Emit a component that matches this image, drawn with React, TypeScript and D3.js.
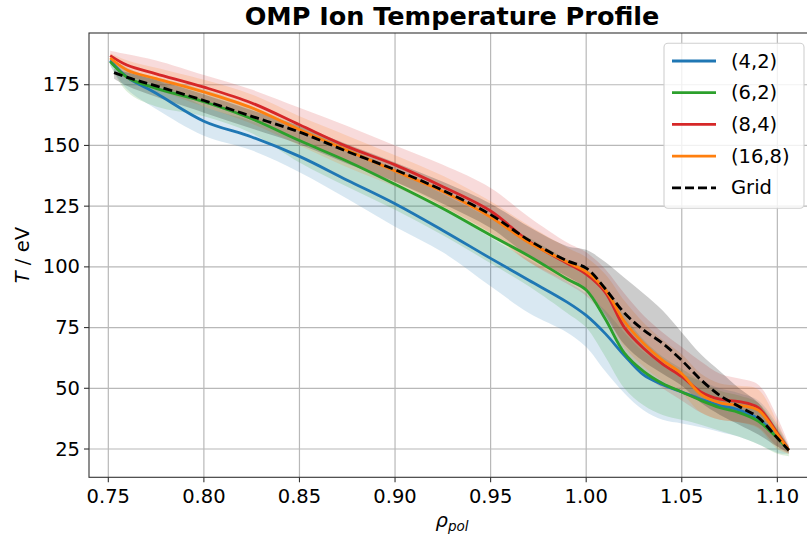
import React from "react";
import * as d3 from "d3";

const rho = [0.751, 0.76, 0.775, 0.80, 0.825, 0.85, 0.875, 0.90, 0.925, 0.95, 0.97, 0.99, 1.00, 1.01, 1.02, 1.03, 1.04, 1.05, 1.06, 1.07, 1.08, 1.09, 1.10, 1.106];
const rhoGrid = [0.753, 0.76, 0.775, 0.80, 0.825, 0.85, 0.875, 0.90, 0.925, 0.95, 0.97, 0.99, 1.00, 1.01, 1.02, 1.03, 1.04, 1.05, 1.06, 1.07, 1.08, 1.09, 1.10, 1.106];

const blueMean = [185, 178, 171.5, 160, 153.5, 145.5, 135.7, 126, 115, 103.5, 94.5, 85.5, 80, 72.5, 63.5, 55.5, 51.5, 48.5, 45.5, 43, 41, 37.5, 30, 24.5];
const blueLo = [183, 173, 165, 154, 148, 139, 128, 116.5, 106, 92, 81, 73, 67, 57, 48, 41, 37, 35.5, 34, 32, 30, 27, 23.5, 23];
const blueHi = [186, 182, 177, 166, 160, 152, 143, 134, 124, 112, 103, 94, 89, 82, 73, 65, 60, 56, 53, 50, 48, 45, 35, 26];

const greenMean = [184.5, 178, 173.5, 168, 161, 152, 143.5, 134, 124, 113, 104.5, 95, 90.5, 78.5, 64.5, 57, 52, 48.5, 45, 42, 40, 36.5, 29.5, 24.5];
const greenLo = [183, 172, 166, 162, 155, 143, 133, 123.5, 113, 101.5, 92, 81, 75, 63, 50, 43, 39, 37, 35, 32.5, 30, 27, 23, 22];
const greenHi = [186, 181, 178, 173, 166, 158, 149, 140, 130, 120, 112, 103, 99, 92, 80, 70, 63, 58, 53, 49, 47, 44, 34, 26];

const redMean = [187, 183, 179.5, 174, 167.5, 158.5, 149.5, 142, 133, 123, 110.5, 101.5, 97, 89.5, 75, 66.5, 60, 54.8, 48.5, 45.5, 44.5, 42, 31.5, 24.5];
const redLo = [184, 179, 175, 168, 161, 152, 143, 135, 125, 114, 102, 93, 88, 79, 64, 56, 50, 45, 40, 37, 36, 34, 26, 23];
const redHi = [189, 187.5, 185, 179, 173, 165.5, 158, 150, 142, 132.5, 120.5, 110, 106, 99, 89, 80, 73, 67, 61, 56, 54, 51.5, 38, 27];

const orangeMean = [186, 181, 177.5, 172, 165.5, 156.5, 148, 139.5, 131, 120.5, 110, 102, 98, 90.5, 77.5, 68.5, 61.5, 56, 47.5, 44, 43, 41, 31, 24.5];
const orangeLo = [184, 177, 173, 166, 159, 150, 141, 133, 123.5, 113, 102, 94, 90, 81, 67, 59, 53, 48, 40, 37, 36, 33.5, 25, 23];
const orangeHi = [188, 185, 182, 177, 171, 162, 154, 146, 137.5, 127, 117, 108, 104, 97, 86, 77, 70, 64, 56, 52, 51, 49.5, 36, 26];

const gridMean = [180, 178, 174.5, 168.5, 162, 155.5, 147.5, 140, 131.5, 121.5, 111, 102.5, 99.5, 91, 81, 74, 68.5, 61.5, 53.5, 47, 42.5, 38, 29.5, 24.5];
const gridLo = [177.5, 174.5, 170, 163.5, 157, 150.5, 142.5, 135, 126, 116, 104.5, 96, 91, 80, 68, 61, 56, 51, 44, 39, 35, 31, 26, 23.5];
const gridHi = [181.5, 180, 177, 171, 164.5, 158, 150.5, 143, 135, 126, 116.5, 108.5, 107, 102, 95.5, 89, 82, 73, 64, 57, 50, 44, 33, 26];

const seriesNames = ["(4,2)", "(6,2)", "(8,4)", "(16,8)"];
const seriesColors = ["#1f77b4", "#2ca02c", "#d62728", "#ff7f0e"];
const xTicks = [0.75, 0.80, 0.85, 0.90, 0.95, 1.00, 1.05, 1.10];
const yTicks = [25, 50, 75, 100, 125, 150, 175];

const W = 807, H = 538;
const L = 89, R = 815, T = 33, B = 477.3;
const FONT = "DejaVu Sans, sans-serif";

export default function App() {
  const x = d3.scaleLinear().domain([0.7399, 1.1197]).range([L, R]);
  const y = d3.scaleLinear().domain([13.35, 196.3]).range([B, T]);

  const runs = [
    { mean: blueMean, lo: blueLo, hi: blueHi },
    { mean: greenMean, lo: greenLo, hi: greenHi },
    { mean: redMean, lo: redLo, hi: redHi },
    { mean: orangeMean, lo: orangeLo, hi: orangeHi },
  ];

  const curve = d3.curveCatmullRom.alpha(0.5);
  const line = (xs: number[], ys: number[]) =>
    d3.line<number>().x((_, i) => x(xs[i])).y((v) => y(v)).curve(curve)(ys) || "";
  const area = (xs: number[], lo: number[], hi: number[]) =>
    d3.area<number>().x((_, i) => x(xs[i])).y0((_, i) => y(lo[i])).y1((_, i) => y(hi[i])).curve(curve)(lo) || "";

  const legendItems = [
    ...seriesNames.map((n, i) => ({ name: n, color: seriesColors[i], dash: "" })),
    { name: "Grid", color: "#000", dash: "9,4" },
  ];

  return (
    <svg width={W} height={H} style={{ position: "absolute", left: 0, top: 0, display: "block" }} fontFamily={FONT}>
      <rect x={0} y={0} width={W} height={H} fill="#fff" />
      <defs>
        <clipPath id="plot">
          <rect x={L} y={T} width={R - L} height={B - T} />
        </clipPath>
      </defs>
      {xTicks.map((t) => (
        <line key={"gx" + t} x1={x(t)} x2={x(t)} y1={T} y2={B} stroke="#b8b8b8" strokeWidth={1.2} />
      ))}
      {yTicks.map((t) => (
        <line key={"gy" + t} x1={L} x2={R} y1={y(t)} y2={y(t)} stroke="#b8b8b8" strokeWidth={1.2} />
      ))}
      <g clipPath="url(#plot)">
        {runs.map((r, i) => (
          <path key={"a" + i} d={area(rho, r.lo, r.hi)} fill={seriesColors[i]} fillOpacity={0.17} stroke="none" />
        ))}
        <path d={area(rhoGrid, gridLo, gridHi)} fill="#000" fillOpacity={0.2} stroke="none" />
        {runs.map((r, i) => (
          <path key={"l" + i} d={line(rho, r.mean)} fill="none" stroke={seriesColors[i]} strokeWidth={2.8} />
        ))}
        <path d={line(rhoGrid, gridMean)} fill="none" stroke="#000" strokeWidth={2.8} strokeDasharray="9,4" />
      </g>
      <rect x={L} y={T} width={R - L} height={B - T} fill="none" stroke="#333" strokeWidth={1.1} />
      {xTicks.map((t) => (
        <g key={"xt" + t}>
          <line x1={x(t)} x2={x(t)} y1={B} y2={B + 5} stroke="#333" strokeWidth={1.1} />
          <text x={x(t)} y={B + 26} textAnchor="middle" fontSize={19.5} fill="#000">
            {t.toFixed(2)}
          </text>
        </g>
      ))}
      {yTicks.map((t) => (
        <g key={"yt" + t}>
          <line x1={L - 5} x2={L} y1={y(t)} y2={y(t)} stroke="#333" strokeWidth={1.1} />
          <text x={L - 9} y={y(t)} textAnchor="end" dominantBaseline="central" fontSize={19.5} fill="#000">
            {t}
          </text>
        </g>
      ))}
      <text x={(L + R) / 2} y={25} textAnchor="middle" fontSize={25.5} fontWeight="bold" fill="#000">
        OMP Ion Temperature Profile
      </text>
      <text transform={`translate(29,${(T + B) / 2}) rotate(-90)`} textAnchor="middle" fontSize={19.5} fill="#000">
        <tspan fontStyle="italic">T</tspan>
        <tspan> / eV</tspan>
      </text>
      <text x={(L + R) / 2} y={527} textAnchor="middle" fontSize={19.5} fill="#000">
        <tspan fontStyle="italic">ρ</tspan>
        <tspan fontStyle="italic" fontSize={13.5} dy={4}>pol</tspan>
      </text>
      <rect x={664} y={43.3} width={140} height={165} rx={4} fill="#fff" fillOpacity={0.8} stroke="#d0d0d0" strokeWidth={1.1} />
      {legendItems.map((it, i) => {
        const cy = 61 + i * 31.7;
        return (
          <g key={"lg" + i}>
            <line x1={672} x2={716} y1={cy} y2={cy} stroke={it.color} strokeWidth={2.8} strokeDasharray={it.dash || undefined} />
            <text x={731} y={cy} dominantBaseline="central" fontSize={19.5} fill="#000">
              {it.name}
            </text>
          </g>
        );
      })}
    </svg>
  );
}
